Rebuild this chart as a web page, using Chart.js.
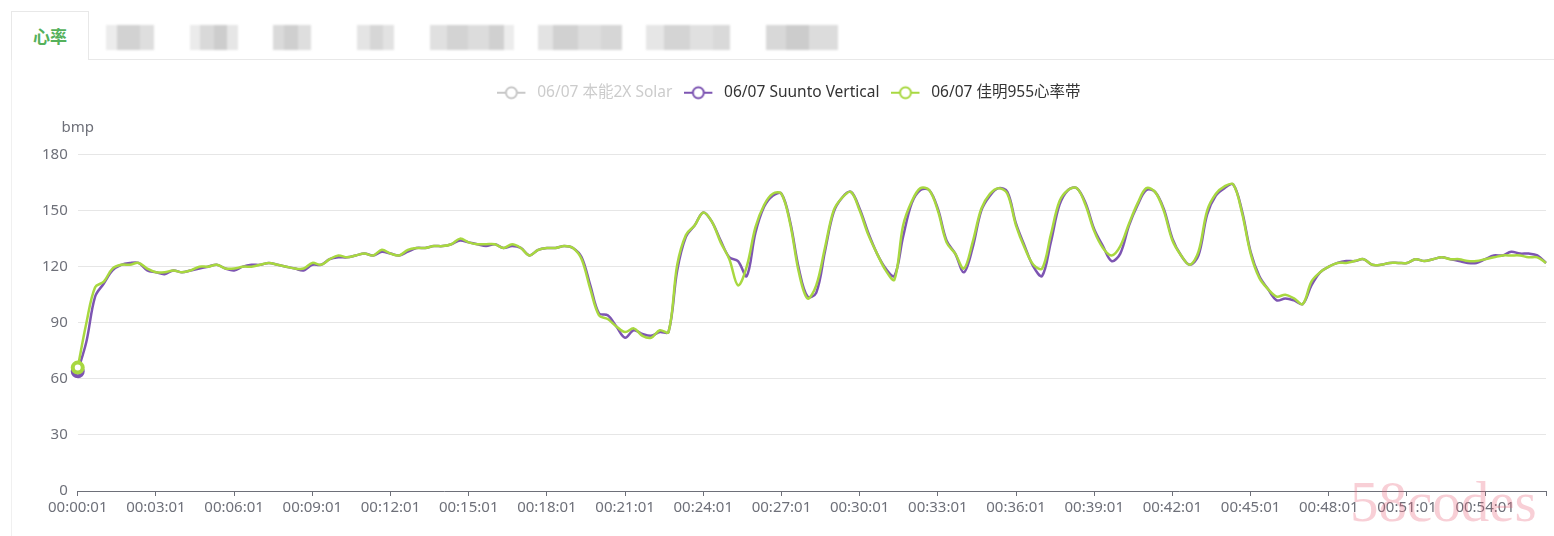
<!DOCTYPE html>
<html><head><meta charset="utf-8">
<script src="https://cdn.jsdelivr.net/npm/chart.js@4.4.1/dist/chart.umd.min.js"></script>
<style>
html,body{margin:0;padding:0;background:#fff;width:1554px;height:536px;overflow:hidden;position:relative;font-family:"Noto Sans","Noto Sans CJK SC",sans-serif;}
#tabline{position:absolute;left:89px;top:59px;width:1465px;height:1px;background:#e8e8e8;}
#panel{position:absolute;left:11px;top:60px;width:1px;height:476px;background:#f0f0f0;}
#tab1{position:absolute;left:11px;top:11px;width:78px;height:49px;border:1px solid #e8e8e8;border-bottom:none;background:#fff;box-sizing:border-box;text-align:center;line-height:48px;font-family:"Noto Sans CJK SC",sans-serif;font-size:17px;font-weight:600;color:#55b15b;}
.blur{position:absolute;top:25px;height:25px;filter:blur(0.8px);}
#wm{position:absolute;left:1350px;top:473px;font-family:"Liberation Serif",serif;font-size:57px;line-height:57px;color:rgba(232,95,120,0.3);white-space:nowrap;pointer-events:none;}
#wrap{position:absolute;left:11px;top:60px;width:1565px;height:476px;}
</style></head>
<body>
<div id="tab1">心率</div>
<div id="tabline"></div>
<div id="panel"></div>
<div class="blur" style="left:106px;width:48px;background:linear-gradient(90deg,#ececec 0 22%,#d2d2d2 22% 70%,#dedede 70%);"></div>
<div class="blur" style="left:190px;width:48px;background:linear-gradient(90deg,#ebebeb 0 20%,#d9d9d9 20% 50%,#cdcdcd 50% 78%,#e6e6e6 78%);"></div>
<div class="blur" style="left:273px;width:38px;background:linear-gradient(90deg,#dadada 0 30%,#cfcfcf 30% 65%,#dedede 65%);"></div>
<div class="blur" style="left:357px;width:37px;background:linear-gradient(90deg,#e4e4e4 0 35%,#d6d6d6 35% 70%,#e2e2e2 70%);"></div>
<div class="blur" style="left:430px;width:84px;background:linear-gradient(90deg,#e0e0e0 0 20%,#d3d3d3 20% 45%,#dcdcdc 45% 70%,#d0d0d0 70% 88%,#ececec 88%);"></div>
<div class="blur" style="left:538px;width:84px;background:linear-gradient(90deg,#e3e3e3 0 18%,#d1d1d1 18% 48%,#dddddd 48% 75%,#d6d6d6 75%);"></div>
<div class="blur" style="left:646px;width:84px;background:linear-gradient(90deg,#e6e6e6 0 22%,#d4d4d4 22% 52%,#e0e0e0 52% 80%,#d9d9d9 80%);"></div>
<div class="blur" style="left:766px;width:72px;background:linear-gradient(90deg,#d8d8d8 0 28%,#cccccc 28% 60%,#dcdcdc 60%);"></div>
<div id="wrap"><canvas id="c"></canvas></div>
<div id="wm">58codes</div>
<script>
// ---- data ----
const seriesNames = ["06/07 本能2X Solar", "06/07 Suunto Vertical", "06/07 佳明955心率带"];
const yAxisName = "bmp";
const yTicks = [0, 30, 60, 90, 120, 150, 180];
const tickLabels = ["00:00:01","00:03:01","00:06:01","00:09:01","00:12:01","00:15:01","00:18:01","00:21:01","00:24:01","00:27:01","00:30:01","00:33:01","00:36:01","00:39:01","00:42:01","00:45:01","00:48:01","00:51:01","00:54:01"];
const sampleSeconds = 20;
const solarHr = [];
const garminHr = [
 66, 90,109,112,119,121,121,122,119,117,
117,118,117,118,120,120,121,119,119,120,
120,121,122,121,120,119,119,122,121,124,
126,125,126,127,126,129,127,126,129,130,
130,131,131,132,135,133,132,132,132,130,
132,130,126,129,130,130,131,130,124,108,
 94, 92, 88, 85, 87, 83, 82, 86, 85,121,
137,142,149,144,133,124,110,120,141,153,
159,159,143,117,103,110,130,150,157,160,
150,137,127,118,113,142,155,162,161,150,
133,127,119,133,151,159,162,159,142,130,
121,119,137,155,161,162,153,139,130,126,
131,143,154,162,160,150,134,126,121,128,
150,159,163,164,149,127,114,108,104,105,
103,100,112,117,120,122,122,123,124,121,
121,122,122,122,124,123,124,125,124,124,
123,123,124,125,126,126,126,125,125,122];
const suuntoHr = [
 64, 80,104,111,118,121,122,122,118,117,
116,118,117,118,119,120,121,119,118,120,
121,121,122,121,120,119,118,121,121,124,
125,125,126,127,126,128,127,126,128,130,
130,131,131,132,134,133,132,131,132,130,
131,130,126,129,130,130,131,130,125,110,
 95, 94, 88, 82, 86, 84, 83, 85, 85,118,
136,142,149,144,134,125,123,115,138,152,
158,159,144,119,104,106,128,149,157,160,
151,138,127,119,115,136,154,161,161,151,
134,127,117,130,150,158,162,160,143,131,
120,115,133,153,161,162,154,140,131,123,
127,142,153,161,160,151,135,126,121,126,
148,158,162,164,150,128,115,108,102,103,
102,100,110,117,120,122,123,123,124,121,
121,122,122,122,124,123,124,125,124,123,
122,122,124,126,126,128,127,127,126,122];
const seriesColors = ["#c8c8c8", "#7d55b2", "#a8d840"];

// ---- build ----
const FAMILY = '"Noto Sans","Noto Sans CJK SC",sans-serif';
function fmt(s){const h=Math.floor(s/3600),m=Math.floor(s%3600/60),x=s%60;return [h,m,x].map(v=>String(v).padStart(2,'0')).join(':');}
const timeLabels = garminHr.map((_, i) => fmt(i * sampleSeconds + 1));
const perTick = 180 / sampleSeconds;
const lastIdx = timeLabels.length - 1;

function makeIcon(color){
  const c = document.createElement('canvas'); c.width = 32; c.height = 16;
  const g = c.getContext('2d');
  g.strokeStyle = color; g.lineWidth = 2;
  g.beginPath(); g.moveTo(0, 8); g.lineTo(28, 8); g.stroke();
  g.beginPath(); g.arc(14, 8, 5.5, 0, Math.PI*2); g.fillStyle = '#fff'; g.fill(); g.stroke();
  return c;
}
const icons = seriesColors.map(makeIcon);

const legendSpacer = { id: 'legendSpacer', beforeInit(chart){
  const lg = chart.legend; if (!lg) return;
  const orig = lg.fit;
  lg.fit = function(){ orig.call(this); this.height += 44; };
}};
const yName = { id: 'yName', afterDraw(chart){
  const ctx = chart.ctx, a = chart.chartArea;
  ctx.save(); ctx.font = '15px ' + FAMILY; ctx.fillStyle = '#6e7079';
  ctx.textAlign = 'center'; ctx.textBaseline = 'middle';
  ctx.fillText(yAxisName, a.left, a.top - 27); ctx.restore();
}};

new Chart(document.getElementById('c'), {
  type: 'line',
  data: {
    labels: timeLabels,
    datasets: [
      { label: seriesNames[0], data: solarHr, borderColor: seriesColors[0], hidden: true, order: 2, pointRadius: 0, borderWidth: 2 },
      { label: seriesNames[1], data: suuntoHr, borderColor: seriesColors[1], order: 1, borderWidth: 2.5, tension: 0.35,
        pointRadius: ctx => ctx.dataIndex === 0 ? 5 : 0, pointBorderWidth: 4, pointBackgroundColor: '#fff', pointBorderColor: seriesColors[1] },
      { label: seriesNames[2], data: garminHr, borderColor: seriesColors[2], order: 0, borderWidth: 2.5, tension: 0.35,
        pointRadius: ctx => ctx.dataIndex === 0 ? 5 : 0, pointBorderWidth: 4, pointBackgroundColor: '#fff', pointBorderColor: seriesColors[2] }
    ]
  },
  options: {
    responsive: true, maintainAspectRatio: false, animation: false,
    layout: { padding: { left: 21, right: 30, top: 13, bottom: 16 } },
    plugins: {
      tooltip: { enabled: false },
      legend: {
        position: 'top', align: 'center',
        labels: {
          usePointStyle: true, pointStyleWidth: 32, boxHeight: 15, padding: 12,
          font: { size: 15.5, family: FAMILY },
          generateLabels(chart){
            return chart.data.datasets.map((ds, i) => ({
              text: ds.label, pointStyle: icons[i], hidden: false, datasetIndex: i,
              fillStyle: '#fff', strokeStyle: seriesColors[i], lineWidth: 0,
              fontColor: i === 0 ? '#cccccc' : '#333333'
            }));
          }
        }
      }
    },
    scales: {
      x: {
        type: 'category', offset: false,
        grid: { display: true, drawOnChartArea: false, drawTicks: true, tickLength: 5,
          color: ctx => (ctx.index % perTick === 0 || ctx.index === lastIdx) ? '#6e7079' : 'rgba(0,0,0,0)' },
        border: { display: true, color: '#6e7079', width: 1 },
        ticks: { autoSkip: false, maxRotation: 0, minRotation: 0, color: '#6e7079', padding: 3,
          font: { size: 15, family: FAMILY },
          callback: (v, i) => (i % perTick === 0 && tickLabels[i / perTick]) ? tickLabels[i / perTick] : '' }
      },
      y: {
        min: yTicks[0], max: yTicks[yTicks.length - 1],
        afterBuildTicks: s => { s.ticks = yTicks.map(v => ({ value: v })); },
        grid: { color: '#e6e6e6', drawTicks: false },
        border: { display: false },
        ticks: { color: '#6e7079', padding: 10, font: { size: 15, family: FAMILY } }
      }
    }
  },
  plugins: [legendSpacer, yName]
});
</script>
</body></html>
